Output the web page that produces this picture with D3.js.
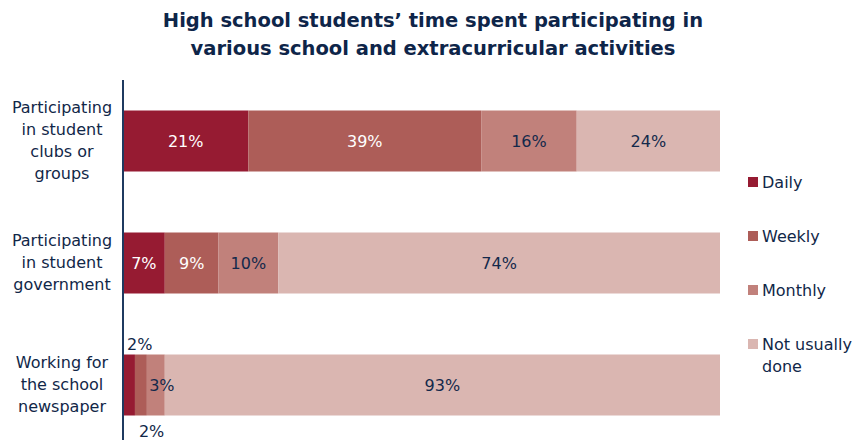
<!DOCTYPE html>
<html>
<head>
<meta charset="utf-8">
<script src="https://cdn.jsdelivr.net/npm/d3@7"></script>
<style>
  html, body { margin: 0; padding: 0; background: #ffffff; }
  svg { display: block; font-family: "DejaVu Sans", Verdana, sans-serif; }
</style>
</head>
<body>
<svg id="chart" width="852" height="440"></svg>
<script>
// Activities (each wrapped onto several lines)
const categories = [
  "Participating in student clubs or groups",
  "Participating in student government",
  "Working for the school newspaper"
];
const categoryLines = [
  ["Participating", "in student", "clubs or", "groups"],
  ["Participating", "in student", "government"],
  ["Working for", "the school", "newspaper"]
];

// Frequency levels, stacked left to right
const seriesNames = ["Daily", "Weekly", "Monthly", "Not usually done"];
const seriesColors = ["#961b32", "#ad5d58", "#c1817b", "#dab6b1"];
const labelColors = ["#ffffff", "#ffffff", "#13294b", "#13294b"];

// Percentages per activity, one array per level
const daily   = [21, 7, 2];
const weekly  = [39, 9, 2];
const monthly = [16, 10, 3];
const notDone = [24, 74, 93];

const title = [
  "High school students\u2019 time spent participating in",
  "various school and extracurricular activities"
];

const svg = d3.select("#chart");
const navy = "#112748";
const fontSize = 16;

const x = d3.scaleLinear().domain([0, 100]).range([123, 720]);
const y = d3.scaleBand().domain(categories).range([80, 446])
  .paddingInner(0.5).paddingOuter(0.25);

const rows = categories.map((c, i) => ({
  category: c,
  Daily: daily[i], Weekly: weekly[i], Monthly: monthly[i], "Not usually done": notDone[i]
}));
const stacked = d3.stack().keys(seriesNames)(rows);

// Title
svg.append("text")
  .attr("x", 433).attr("y", 27)
  .attr("text-anchor", "middle")
  .attr("font-weight", "bold").attr("font-size", 19.5)
  .attr("fill", "#0e2549")
  .selectAll("tspan").data(title).join("tspan")
  .attr("x", 433).attr("dy", (d, i) => i === 0 ? 0 : 28)
  .text(d => d);

// Bars
const layers = svg.append("g").selectAll("g").data(stacked).join("g")
  .attr("fill", (d, i) => seriesColors[i]);
layers.selectAll("rect").data(d => d).join("rect")
  .attr("x", d => x(d[0]))
  .attr("y", d => y(d.data.category))
  .attr("width", d => x(d[1]) - x(d[0]))
  .attr("height", y.bandwidth());

// Value labels; very narrow segments get their label above / below the bar
const labels = svg.append("g").attr("font-size", fontSize);
stacked.forEach((layer, si) => {
  layer.forEach((d) => {
    const v = d[1] - d[0];
    const top = y(d.data.category);
    const cx = (x(d[0]) + x(d[1])) / 2;
    const t = labels.append("text").text(v + "%");
    if (v < 3) {
      const above = si === 0;
      t.attr("x", x(d[0]) + 4)
        .attr("y", above ? top - 5 : top + y.bandwidth() + 21)
        .attr("fill", navy);
    } else {
      t.attr("x", v < 5 ? cx + 6 : cx)
        .attr("y", top + y.bandwidth() / 2 + 6)
        .attr("text-anchor", "middle")
        .attr("fill", labelColors[si]);
    }
  });
});

// Vertical category axis line
svg.append("line")
  .attr("x1", x(0)).attr("x2", x(0))
  .attr("y1", 80).attr("y2", 440)
  .attr("stroke", "#1f3a60").attr("stroke-width", 2);

// Category labels
const catG = svg.append("g").attr("font-size", fontSize).attr("fill", navy)
  .attr("text-anchor", "middle");
categories.forEach((c, i) => {
  const lines = categoryLines[i];
  const lh = 22;
  const cy = y(c) + y.bandwidth() / 2;
  const y0 = cy - (lines.length - 1) * lh / 2 + 5;
  catG.append("text").selectAll("tspan").data(lines).join("tspan")
    .attr("x", 62).attr("y", (d, j) => y0 + j * lh).text(d => d);
});

// Legend
const legendNames = [["Daily"], ["Weekly"], ["Monthly"], ["Not usually", "done"]];
const legend = svg.append("g").attr("font-size", fontSize).attr("fill", navy);
seriesNames.forEach((s, i) => {
  const ly = 182 + i * 54;
  legend.append("rect")
    .attr("x", 748).attr("y", ly - 5).attr("width", 10).attr("height", 10)
    .attr("fill", seriesColors[i]);
  legend.append("text").selectAll("tspan").data(legendNames[i]).join("tspan")
    .attr("x", 762).attr("y", (d, j) => ly + 6 + j * 22).text(d => d);
});
</script>
</body>
</html>
